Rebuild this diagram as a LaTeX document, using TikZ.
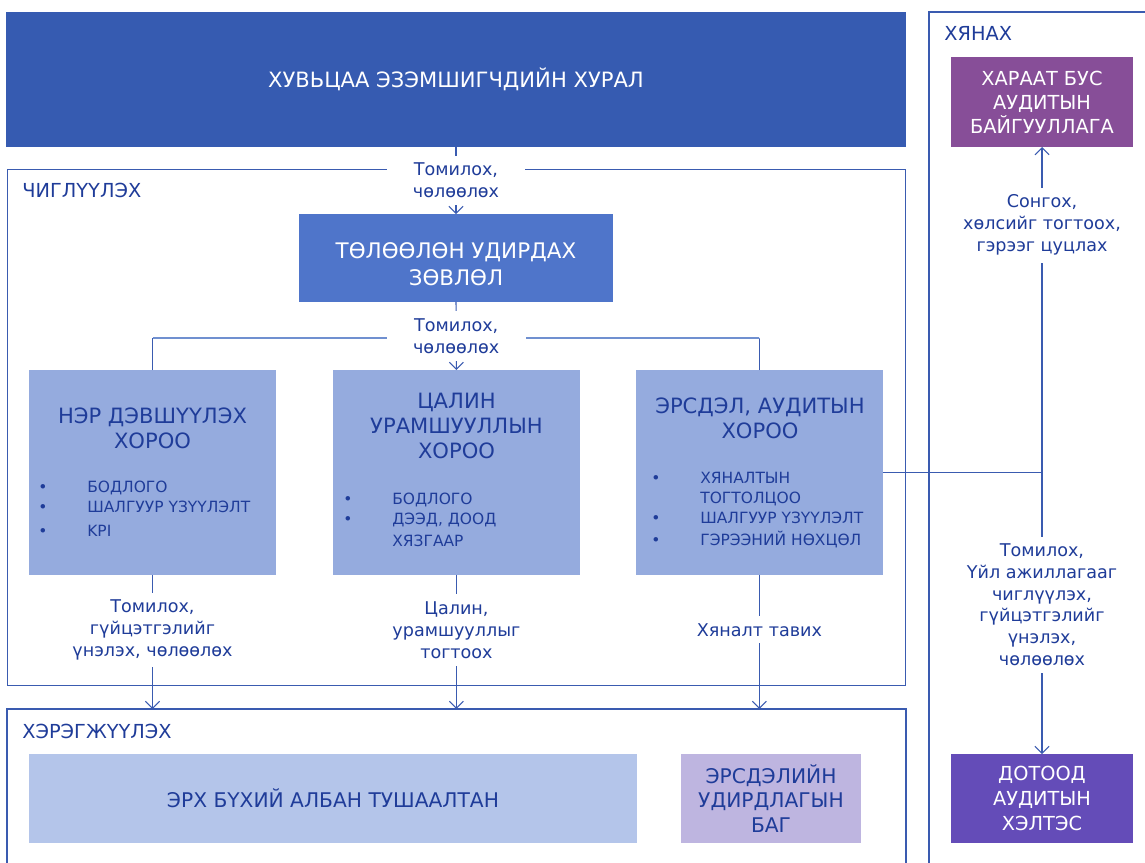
\documentclass[tikz,border=0pt]{standalone}
\usepackage{fontspec}
\setmainfont{DejaVu Sans}
\usepackage{tikz}
\usetikzlibrary{positioning,arrows.meta}
\definecolor{shfill}{HTML}{365BB1}
\definecolor{bdfill}{HTML}{4F75CA}
\definecolor{cmfill}{HTML}{95ABDE}
\definecolor{offfill}{HTML}{B4C5EA}
\definecolor{rskfill}{HTML}{BEB5E0}
\definecolor{extfill}{HTML}{874E98}
\definecolor{iafill}{HTML}{644CB8}
\definecolor{ink}{HTML}{1F3C99}
\definecolor{rule}{HTML}{3A5BB0}
\definecolor{softrule}{HTML}{7090D0}
\newcommand{\blt}{\makebox[0.98cm][l]{\textbullet}}
\newcommand{\nob}{\hspace*{0.98cm}}

\begin{document}
\begin{tikzpicture}[x=0.02cm,y=-0.02cm,
    box/.style={rectangle,inner sep=0pt,outer sep=0pt,align=center},
    comm/.style={box,fill=cmfill,minimum width=4.94cm,minimum height=4.1cm},
    frame/.style={draw=rule,line width=0.6pt},
    lbl/.style={fill=white,text=ink,align=center,inner xsep=15pt,inner ysep=4pt,font=\fontsize{10}{12.6}\selectfont},
    conn/.style={draw=rule,line width=0.6pt},
    arr/.style={conn,-{Straight Barb[length=4pt,width=8pt]}},
    ctitle/.style={text=ink,align=center,font=\fontsize{12}{14.2}\selectfont},
    items/.style={text=ink,align=left,inner sep=0pt,font=\fontsize{8.8}{11.4}\selectfont},
    head/.style={text=ink,anchor=base west,inner sep=0pt,font=\fontsize{11}{13}\selectfont}]

\useasboundingbox (0,0) rectangle (1145,862);

\node (guide) [frame,box,minimum width=17.98cm,minimum height=10.34cm] at (456.5,427.5) {};
\draw[frame] (7,863) |- (906,709) -- (906,863);
\draw[frame] (929,863) |- (1146,12);
\coordinate (impl) at (7,709);

\node (guideh) [head] at (22,197) {ЧИГЛҮҮЛЭХ};
\node (implh)  [head] at (22,738) {ХЭРЭГЖҮҮЛЭХ};
\node (ctrlh)  [head] at (944,40)  {ХЯНАХ};

\node (sh) [box,fill=shfill,text=white,minimum width=18.02cm,minimum height=2.7cm,font=\fontsize{12}{14}\selectfont] at (456,79.5) {ХУВЬЦАА ЭЗЭМШИГЧДИЙН ХУРАЛ};
\node (bd) [box,fill=bdfill,text=white,minimum width=6.3cm,minimum height=1.76cm,font=\fontsize{12.2}{15.3}\selectfont] at (456,258) {\rule{0pt}{16pt}ТӨЛӨӨЛӨН УДИРДАХ\\ЗӨВЛӨЛ};

\node (nom)  [comm] at (152.5,472.5) {};
\node (pay)  [comm,right=1.14cm of nom] {};
\node (risk) [comm,right=1.12cm of pay] {};

\node (nomt)  [ctitle] at (152.5,428) {НЭР ДЭВШҮҮЛЭХ\\ХОРОО};
\node (payt)  [ctitle] at (456.5,426) {ЦАЛИН\\УРАМШУУЛЛЫН\\ХОРОО};
\node (riskt) [ctitle] at (760,418)   {ЭРСДЭЛ, АУДИТЫН\\ХОРОО};

\node (noml)  [items,anchor=north west] at (38,481)  {\blt БОДЛОГО\\\blt ШАЛГУУР ҮЗҮҮЛЭЛТ\\[2pt]\blt KPI};
\node (payl)  [items,anchor=north west] at (343,493) {\blt БОДЛОГО\\\blt ДЭЭД, ДООД\\[1pt]\nob ХЯЗГААР};
\node (riskl) [items,anchor=north west] at (651,472) {\blt ХЯНАЛТЫН\\\nob ТОГТОЛЦОО\\\blt ШАЛГУУР ҮЗҮҮЛЭЛТ\\[1pt]\blt ГЭРЭЭНИЙ НӨХЦӨЛ};

\node (off) [box,fill=offfill,text=ink,minimum width=12.16cm,minimum height=1.78cm,font=\fontsize{11.5}{14}\selectfont] at (333,798.5) {ЭРХ БҮХИЙ АЛБАН ТУШААЛТАН};
\node (rm)  [box,fill=rskfill,text=ink,minimum width=3.6cm,minimum height=1.78cm,font=\fontsize{11.5}{14}\selectfont] at (771,798.5) {ЭРСДЭЛИЙН\\УДИРДЛАГЫН\\БАГ};
\node (ext) [box,fill=extfill,text=white,minimum width=3.64cm,minimum height=1.8cm,font=\fontsize{11}{13.6}\selectfont] at (1042,102) {ХАРААТ БУС\\АУДИТЫН\\БАЙГУУЛЛАГА};
\node (ia)  [box,fill=iafill,text=white,minimum width=3.64cm,minimum height=1.78cm,font=\fontsize{11}{14}\selectfont] at (1042,798.5) {ДОТООД\\АУДИТЫН\\ХЭЛТЭС};

\draw[arr] (sh.south) -- (bd.north) node[lbl,midway] {Томилох,\\чөлөөлөх};
\draw[conn] (nom.north) -- ++(0,-32);
\draw[conn] (risk.north) -- ++(0,-32);
\draw[conn,softrule,line width=1.1pt] (nom.north) ++(0,-32) -| (risk.north |- 0,338);
\draw[arr] (bd.south) -- (pay.north) node[lbl,midway] {Томилох,\\чөлөөлөх};

\draw[arr] (nom.south) -- (nom.south |- impl) node[lbl,pos=0.41] {Томилох,\\гүйцэтгэлийг\\үнэлэх, чөлөөлөх};
\draw[arr] (pay.south) -- (pay.south |- impl) node[lbl,pos=0.41] {Цалин,\\урамшууллыг\\тогтоох};
\draw[arr] (risk.south) -- (risk.south |- impl) node[lbl,pos=0.41] {Хяналт тавих};

\draw[conn] (risk.east) -- (risk.east -| ext.south) coordinate (jn);
\draw[arr] (jn) -- (ext.south) node[lbl,inner xsep=2pt,pos=0.76] {Сонгох,\\хөлсийг тогтоох,\\гэрээг цуцлах};
\draw[arr] (jn) -- (ia.north) node[lbl,inner xsep=2pt,pos=0.47,font=\fontsize{10}{12.4}\selectfont] {Томилох,\\Үйл ажиллагааг\\чиглүүлэх,\\гүйцэтгэлийг\\үнэлэх,\\чөлөөлөх};
\end{tikzpicture}
\end{document}
